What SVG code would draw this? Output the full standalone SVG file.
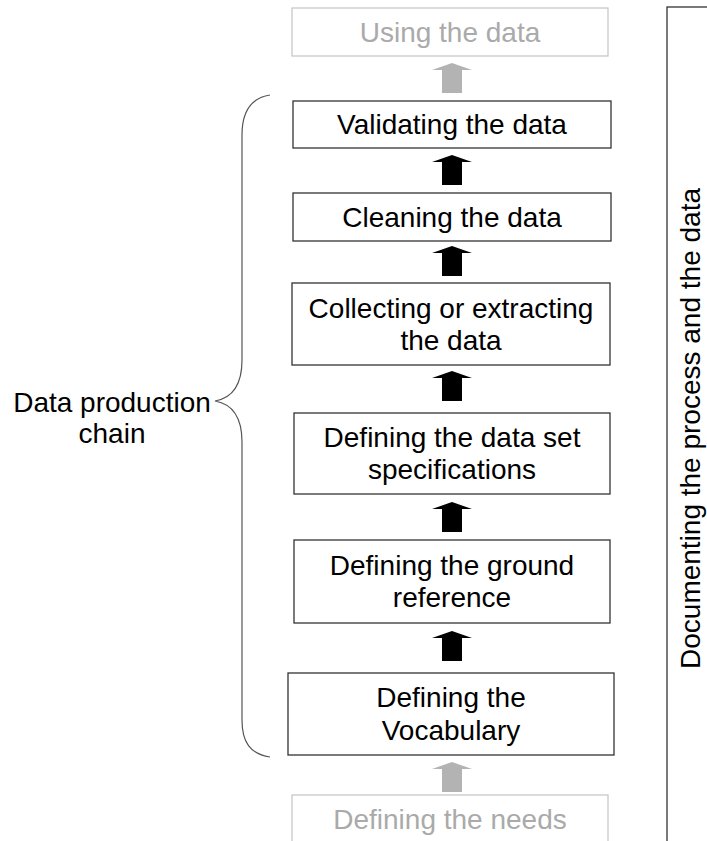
<svg xmlns="http://www.w3.org/2000/svg" width="707" height="841" viewBox="0 0 707 841">
<style>
text{font-family:"Liberation Sans",Arial,sans-serif;font-size:28px;text-anchor:middle;fill:#000}
.box{fill:#fff;stroke:#333;stroke-width:1.3}
.gbox{fill:#fff;stroke:#c8c8c8;stroke-width:1.3}
.gtext{fill:#aaa}
.arr{fill:#000}
.garr{fill:#b3b3b3}
</style>
<defs>
<path id="up" d="M452,0 L472,7 L462,7 L462,30 L442,30 L442,7 L432,7 Z"/>
</defs>
<rect width="707" height="841" fill="#fff"/>
<g id="node-using">
<rect class="gbox" x="292" y="8" width="316" height="48"/>
<text class="gtext" x="450" y="42">Using the data</text>
</g>
<g id="node-validating">
<rect class="box" x="293" y="101" width="318" height="47"/>
<text x="452" y="134">Validating the data</text>
</g>
<g id="node-cleaning">
<rect class="box" x="293" y="193" width="318" height="48"/>
<text x="452" y="227">Cleaning the data</text>
</g>
<g id="node-collecting">
<rect class="box" x="292" y="283" width="318" height="82"/>
<text x="451" y="318">Collecting or extracting</text>
<text x="451" y="350">the data</text>
</g>
<g id="node-spec">
<rect class="box" x="294" y="413" width="316" height="81"/>
<text x="452" y="447">Defining the data set</text>
<text x="452" y="479">specifications</text>
</g>
<g id="node-ground">
<rect class="box" x="294" y="540" width="316" height="83"/>
<text x="452" y="575">Defining the ground</text>
<text x="452" y="607">reference</text>
</g>
<g id="node-vocab">
<rect class="box" x="288" y="673" width="326" height="82"/>
<text x="451" y="707">Defining the</text>
<text x="451" y="740">Vocabulary</text>
</g>
<g id="node-needs">
<rect class="gbox" x="292" y="795" width="316" height="50"/>
<text class="gtext" x="450" y="829">Defining the needs</text>
</g>
<g id="connectors">
<use href="#up" class="garr" y="63"/>
<use href="#up" class="arr" y="155"/>
<use href="#up" class="arr" y="246"/>
<use href="#up" class="arr" y="371"/>
<use href="#up" class="arr" y="502"/>
<use href="#up" class="arr" y="631"/>
<use href="#up" class="garr" y="762"/>
</g>
<g id="brace">
<path d="M270,95 C250,98 242,112 242,135 L242,360 C242,385 232,398 215,401 C232,404 242,417 242,442 L242,720 C242,742 250,754 270,757" fill="none" stroke="#555" stroke-width="1.2"/>
<text x="112" y="412">Data production</text>
<text x="112" y="443">chain</text>
</g>
<g id="node-documenting">
<rect x="667" y="7" width="60" height="850" fill="none" stroke="#333" stroke-width="1.3"/>
<text transform="translate(700,428.5) rotate(-90)" x="0" y="0">Documenting the process and the data</text>
</g>
</svg>
